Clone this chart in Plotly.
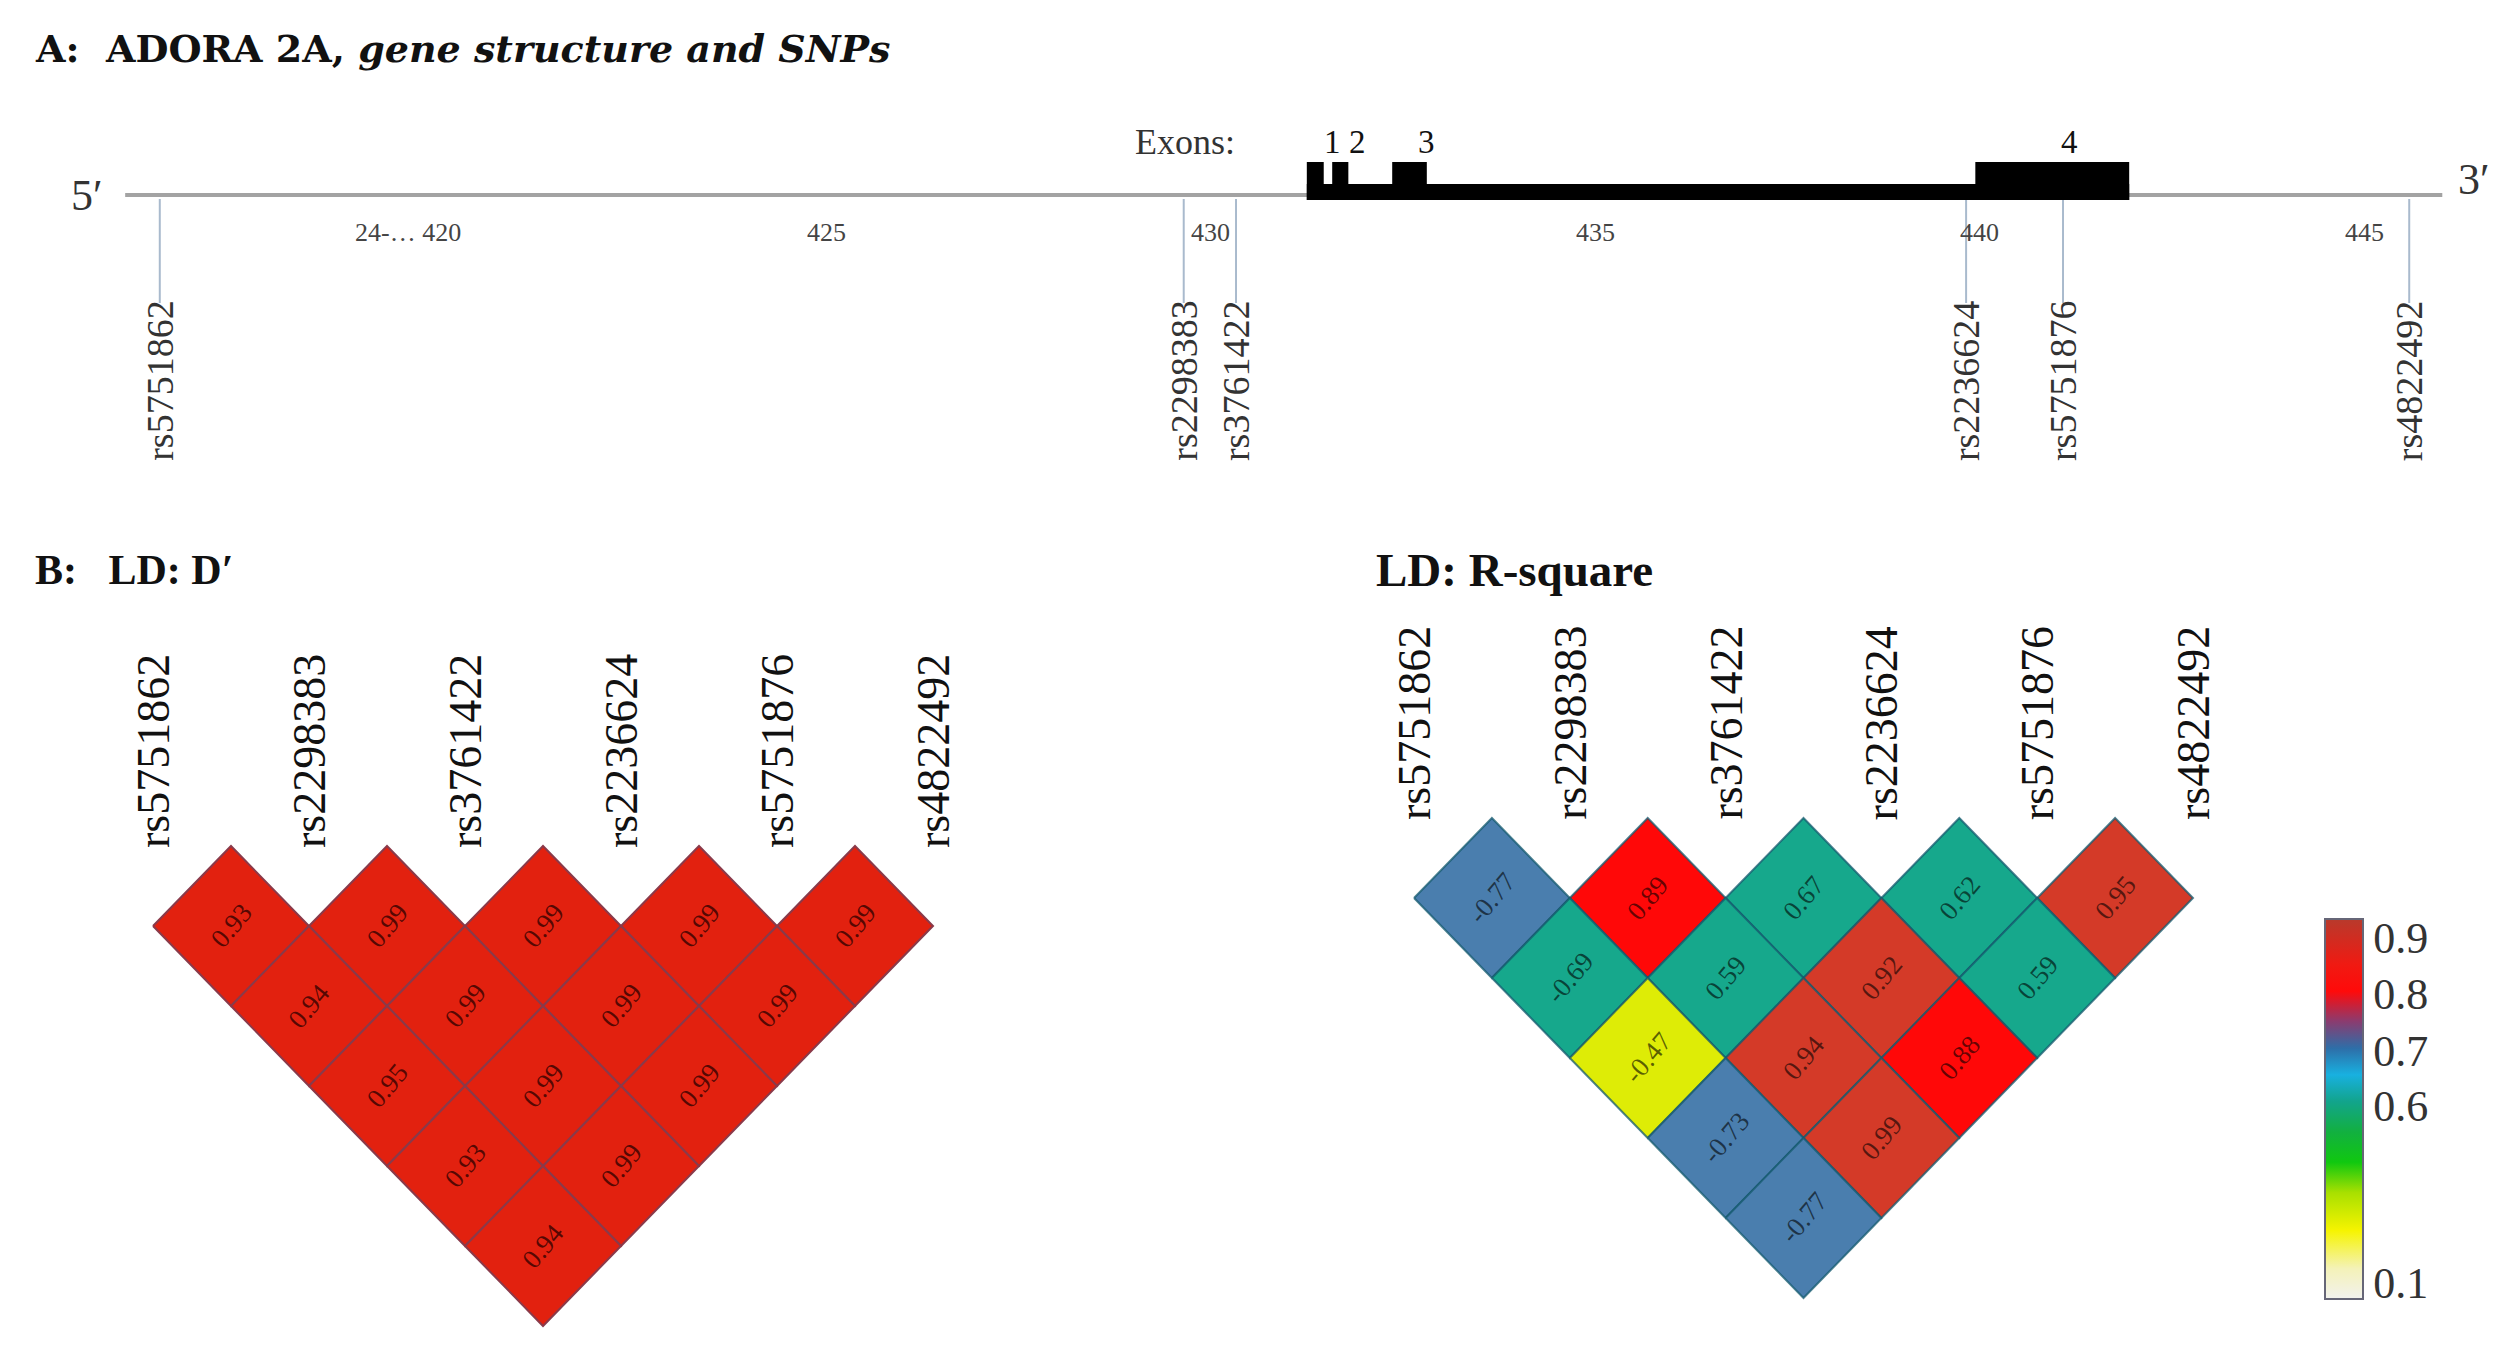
import numpy as np
import plotly.graph_objects as go
from plotly.colors import sample_colorscale

# ---------------- data ----------------
SNP_NAMES = ["rs5751862", "rs2298383", "rs3761422", "rs2236624", "rs5751876", "rs4822492"]
SNP_POS_KB = [416.34, 429.65, 430.33, 439.82, 441.08, 445.58]          # chr22 position (kb, after 24,000)
POS_TICK_KB = [420, 425, 430, 435, 440, 445]
POS_TICK_TEXT = ["24-\u2026 420", "425", "430", "435", "440", "445"]
EXON_LABELS = ["1", "2", "3", "4"]
EXON_START_KB = [431.25, 431.58, 432.36, 439.94]
EXON_END_KB = [431.47, 431.79, 432.81, 441.94]
TRACK_KB = [415.89, 446.01]

# LD values, row r = pairs (i, i+r+1)
DPRIME_ROWS = [
    [0.93, 0.99, 0.99, 0.99, 0.99],
    [0.94, 0.99, 0.99, 0.99],
    [0.95, 0.99, 0.99],
    [0.93, 0.99],
    [0.94],
]
RSQ_ROWS = [
    [-0.77, 0.89, 0.67, 0.62, 0.95],
    [-0.69, 0.59, 0.92, 0.59],
    [-0.47, 0.94, 0.88],
    [-0.73, 0.99],
    [-0.77],
]
COLORBAR_VALUES = [0.1, 0.6, 0.7, 0.8, 0.9]

# ---------------- styles / layout ----------------
W, H = 2514, 1353
SERIF = "Liberation Serif, Times New Roman, serif"
WIDE_SERIF = "DejaVu Serif, serif"
KB_PER_PX = 1 / 76.93
KB_AT_LEFT = 414.263
TOP_H = 490          # px height of gene panel
BASE_PX = 195        # baseline px inside gene panel
UX_D, X0_D, Y0_D = 156.0, 153, 846
UX_R, X0_R, Y0_R = 155.8, 1414, 818
UY = 160.0
CB_TICK_POS = [0.042, 0.508, 0.655, 0.803, 0.95]
BAR_SCALE = [
    [0.00, "#f2f2ee"], [0.08, "#f4f2b8"], [0.18, "#f6f400"], [0.28, "#a8e000"],
    [0.36, "#10c810"], [0.44, "#12b040"], [0.52, "#12a48c"], [0.59, "#18b0e0"],
    [0.66, "#2e6ea8"], [0.73, "#8a3c70"], [0.81, "#ff0a0a"], [0.88, "#f01a12"],
    [1.00, "#b83a2c"],
]
CELL_SCALE = [
    [0.00, "rgb(242,242,238)"], [0.35, "rgb(244,244,0)"], [0.50, "rgb(216,234,8)"],
    [0.55, "rgb(22,168,140)"], [0.70, "rgb(22,168,140)"], [0.71, "rgb(74,126,174)"],
    [0.80, "rgb(74,126,174)"], [0.84, "rgb(255,8,8)"], [0.90, "rgb(255,8,8)"],
    [0.91, "rgb(212,58,40)"], [1.00, "rgb(212,58,40)"],
]
DPRIME_COLOR = "#e2210f"

fig = go.Figure()
bot_dom = 1 - TOP_H / H

fig.update_layout(
    width=W, height=H, margin=dict(l=0, r=0, t=0, b=0),
    paper_bgcolor="white", plot_bgcolor="white", showlegend=False,
    xaxis=dict(domain=[0, 1], range=[KB_AT_LEFT, KB_AT_LEFT + W * KB_PER_PX], anchor="y"),
    yaxis=dict(domain=[bot_dom, 1], range=[-(TOP_H - BASE_PX), BASE_PX], anchor="x"),
    xaxis2=dict(domain=[0, 0.5], range=[-X0_D / UX_D, (W / 2 - X0_D) / UX_D], anchor="y2"),
    yaxis2=dict(domain=[0, bot_dom], range=[-(H - Y0_D) / UY, (Y0_D - TOP_H) / UY], anchor="x2"),
    xaxis3=dict(domain=[0.5, 1], range=[-(X0_R - W / 2) / UX_R, (W - X0_R) / UX_R], anchor="y3"),
    yaxis3=dict(domain=[0, bot_dom], range=[-(H - Y0_R) / UY, (Y0_R - TOP_H) / UY], anchor="x3"),
)
for ax in ["xaxis", "yaxis", "xaxis2", "yaxis2", "xaxis3", "yaxis3"]:
    fig.layout[ax].update(visible=False, fixedrange=True, showgrid=False, zeroline=False)

shapes, ann = [], []

# ---- gene panel ----
shapes.append(dict(type="line", xref="x", yref="y", x0=TRACK_KB[0], x1=TRACK_KB[1], y0=0, y1=0,
                   line=dict(color="#a3a3a3", width=4)))
for kb in SNP_POS_KB:
    shapes.append(dict(type="line", xref="x", yref="y", x0=kb, x1=kb, y0=-4, y1=-108,
                       line=dict(color="#a9bacd", width=2)))
shapes.append(dict(type="rect", xref="x", yref="y", x0=EXON_START_KB[0], x1=EXON_END_KB[-1],
                   y0=-5, y1=11, fillcolor="black", line=dict(width=0)))
for s, e in zip(EXON_START_KB, EXON_END_KB):
    shapes.append(dict(type="rect", xref="x", yref="y", x0=s, x1=e, y0=-5, y1=33,
                       fillcolor="black", line=dict(width=0)))

for name, kb in zip(SNP_NAMES, SNP_POS_KB):
    ann.append(dict(x=kb, y=-268, xref="x", yref="y", text=name, textangle=-90, showarrow=False,
                    xanchor="center", yanchor="bottom", font=dict(family=SERIF, size=38, color="#333")))
for kb, t in zip(POS_TICK_KB, POS_TICK_TEXT):
    first = t.startswith("24")
    ann.append(dict(x=kb, y=-37, xref="x", yref="y", text=t, showarrow=False,
                    xanchor="right" if first else "center", xshift=22 if first else 0,
                    yanchor="middle", font=dict(family=SERIF, size=26, color="#444")))
for lab, s, e in zip(EXON_LABELS, EXON_START_KB, EXON_END_KB):
    ann.append(dict(x=(s + e) / 2, y=53, xref="x", yref="y", text=lab, showarrow=False, xshift=17,
                    xanchor="center", yanchor="middle", font=dict(family=SERIF, size=33, color="#111")))
ann.append(dict(x=EXON_START_KB[0], y=53, xref="x", yref="y", text="Exons:", showarrow=False, xshift=-70,
                xanchor="right", yanchor="middle", font=dict(family=SERIF, size=36, color="#333")))
ann.append(dict(x=TRACK_KB[0], y=0, xref="x", yref="y", text="5\u2032", showarrow=False, xshift=-20,
                xanchor="right", yanchor="middle", font=dict(family=SERIF, size=44, color="#333")))
ann.append(dict(x=TRACK_KB[1], y=16, xref="x", yref="y", text="3\u2032", showarrow=False, xshift=14,
                xanchor="left", yanchor="middle", font=dict(family=SERIF, size=44, color="#333")))
ann.append(dict(x=33 / W, y=1 - 48 / H, xref="paper", yref="paper",
                text="<b>A:\u00a0\u00a0ADORA 2A, <i>gene structure and SNPs</i></b>", showarrow=False,
                xanchor="left", yanchor="middle", font=dict(family=WIDE_SERIF, size=38, color="#111")))
ann.append(dict(x=33 / W, y=1 - 570 / H, xref="paper", yref="paper",
                text="<b>B:\u00a0\u00a0\u00a0LD: D\u2032</b>", showarrow=False,
                xanchor="left", yanchor="middle", font=dict(family=SERIF, size=42, color="#111")))
ann.append(dict(x=1374 / W, y=1 - 570 / H, xref="paper", yref="paper",
                text="<b>LD: R-square</b>", showarrow=False,
                xanchor="left", yanchor="middle", font=dict(family=SERIF, size=47, color="#111")))


# ---- LD panels ----
def ld_panel(rows, xa, ya, colors, border, txtcolor):
    for r, row in enumerate(rows):
        for i, v in enumerate(row):
            j = i + r + 1
            cx, cy = (i + j) / 2, -(r + 1) / 2
            fig.add_trace(go.Scatter(
                x=[cx - 0.5, cx, cx + 0.5, cx, cx - 0.5], y=[cy, cy + 0.5, cy, cy - 0.5, cy],
                mode="lines", fill="toself", fillcolor=colors[r][i],
                line=dict(color=border, width=2), xaxis=xa, yaxis=ya, hoverinfo="skip"))
            ann.append(dict(x=cx, y=cy, xref=xa, yref=ya, text=f"{v:.2f}", textangle=-50,
                            showarrow=False, font=dict(family=SERIF, size=27, color=txtcolor)))
    for k, name in enumerate(SNP_NAMES):
        ann.append(dict(x=k, y=0, xref=xa, yref=ya, text=name, textangle=-90, showarrow=False,
                        xanchor="center", yanchor="bottom", yshift=-4,
                        font=dict(family=SERIF, size=46, color="#111")))


d_colors = [[DPRIME_COLOR for _ in row] for row in DPRIME_ROWS]
r_colors = [sample_colorscale(CELL_SCALE, [abs(v) for v in row]) for row in RSQ_ROWS]
ld_panel(DPRIME_ROWS, "x2", "y2", d_colors, "#8a3a4a", "rgba(40,0,0,0.75)")
ld_panel(RSQ_ROWS, "x3", "y3", r_colors, "rgba(20,90,110,0.75)", "rgba(0,0,0,0.6)")

# ---- colour bar ----
fig.add_trace(go.Scatter(
    x=[0], y=[0], mode="markers", xaxis="x3", yaxis="y3", hoverinfo="skip",
    marker=dict(size=1, opacity=0, color=[0.5], colorscale=BAR_SCALE, cmin=0, cmax=1, showscale=True,
                colorbar=dict(x=2325 / W, xanchor="left", y=1 - 1109 / H, yanchor="middle",
                              len=380, lenmode="pixels", thickness=38, thicknessmode="pixels",
                              xpad=0, ypad=0, outlinecolor="#667", outlinewidth=2,
                              tickvals=CB_TICK_POS, ticktext=[f"{v:.1f}" for v in COLORBAR_VALUES],
                              ticks="", tickfont=dict(family=SERIF, size=44, color="#333")))))

fig.update_layout(shapes=shapes, annotations=ann)
fig.write_html("out.html", config={"displayModeBar": False},
               post_script="document.body.style.margin='0px';")
